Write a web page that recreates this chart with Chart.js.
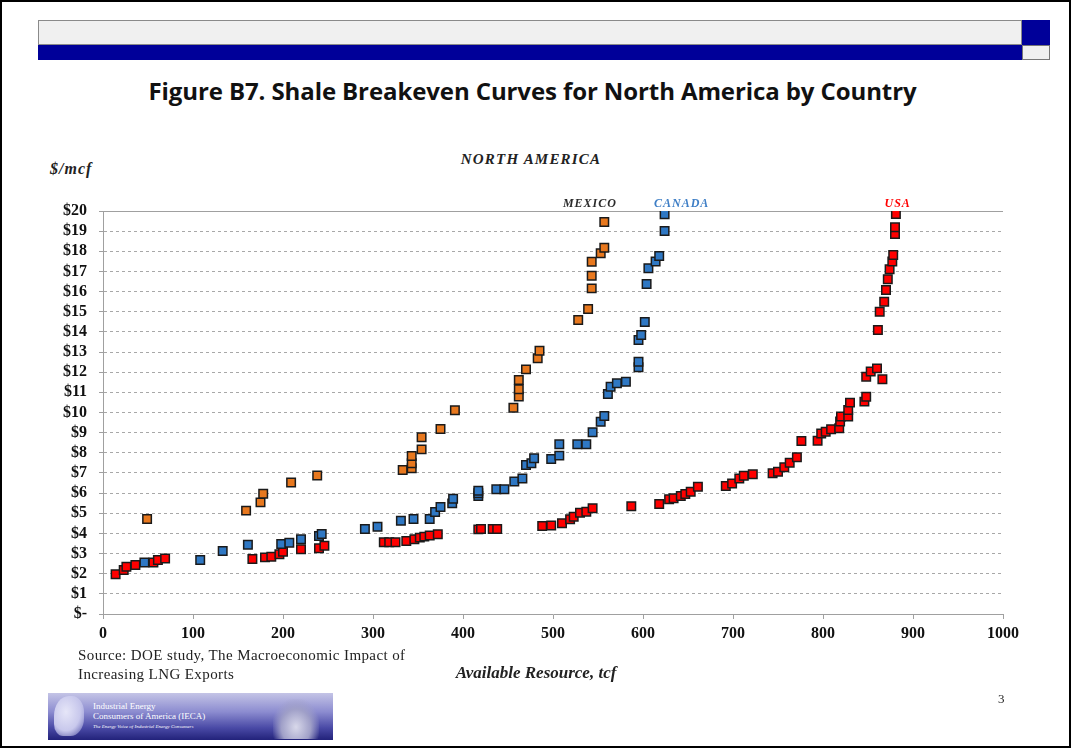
<!DOCTYPE html>
<html>
<head>
<meta charset="utf-8">
<script src="https://cdn.jsdelivr.net/npm/chart.js@4.4.1/dist/chart.umd.min.js"></script>
<style>
  body { margin: 0; background: #fff; }
  .page { position: relative; width: 1073px; height: 750px; overflow: hidden; background: #fff; }
  .frame { position: absolute; left: 0; top: 0; width: 1071px; height: 748px; border: 2px solid #000; box-sizing: border-box; }
  .abs { position: absolute; white-space: nowrap; }
  .serif { font-family: "Liberation Serif", "Times New Roman", serif; }
  #chart { position: absolute; left: 0; top: 0; }
  .logo { position: absolute; left: 48px; top: 693px; width: 285px; height: 47px; overflow: hidden;
    background: linear-gradient(180deg, #c4c4e6 0%, #8c8cd0 40%, #4a4aa6 74%, #22227a 100%); }
  .logo .map { position: absolute; left: 6px; top: 3px; width: 30px; height: 40px; border-radius: 50% 40% 45% 30%;
    background: radial-gradient(ellipse at 40% 40%, #e6e6f8 0%, #c8c8ec 55%, rgba(190,190,235,0) 100%); }
  .logo .dome { position: absolute; right: 14px; top: 6px; width: 46px; height: 40px;
    background: radial-gradient(ellipse at 50% 70%, #d8d8ea 0%, #a0a0c8 45%, rgba(120,120,180,0) 75%); }
  .logo .t { position: absolute; color: #fff; font-family: "Liberation Serif", serif; white-space: nowrap; }
</style>
</head>
<body>
<div class="page">
  <!-- header band -->
  <div class="abs" style="left:38px;top:20px;width:984px;height:25px;background:#f0f0f0;border:1px solid #8a8a8a;box-sizing:border-box;"></div>
  <div class="abs" style="left:38px;top:45px;width:984px;height:15px;background:#000099;"></div>
  <div class="abs" style="left:1022px;top:20px;width:28px;height:25px;background:#000099;"></div>
  <div class="abs" style="left:1022px;top:45px;width:28px;height:15px;background:#f0f0f0;border:1px solid #777;box-sizing:border-box;"></div>

  <div class="abs" style="left:0;width:1065px;top:74px;text-align:center;font:bold 24px 'Open Sans', sans-serif;letter-spacing:-0.1px;color:#111;">Figure B7. Shale Breakeven Curves for North America by Country</div>

  <div class="abs serif" style="left:0;width:1062px;top:151px;text-align:center;font-weight:bold;font-style:italic;font-size:15px;letter-spacing:1.2px;color:#222;">NORTH AMERICA</div>
  <div class="abs serif" style="left:50px;top:160px;font-weight:bold;font-style:italic;font-size:16px;letter-spacing:1px;color:#222;">$/mcf</div>

  <canvas id="chart" width="1073" height="750"></canvas>

  <div class="abs serif" style="left:0;width:1072px;top:663px;text-align:center;font-weight:bold;font-style:italic;font-size:17px;color:#222;">Available Resource, tcf</div>
  <div class="abs serif" style="left:78px;top:646px;font-size:15px;letter-spacing:0.4px;line-height:19px;color:#222;">Source: DOE study, The Macroeconomic Impact of<br>Increasing LNG Exports</div>
  <div class="abs serif" style="left:998px;top:691px;font-size:13px;color:#222;">3</div>

  <div class="logo">
    <div class="map"></div>
    <div class="dome"></div>
    <div class="t" style="left:45px;top:8px;font-size:9px;">Industrial Energy</div>
    <div class="t" style="left:45px;top:18px;font-size:9px;">Consumers of America (IECA)</div>
    <div class="t" style="left:45px;top:31px;font-size:5px;font-style:italic;">The Energy Voice of Industrial Energy Consumers</div>
  </div>
  <div class="frame"></div>
</div>

<script>
// Breakeven price ($/mcf) vs cumulative available resource (tcf)
const usaX = [14, 23, 26, 36, 56, 61, 69, 166, 180, 187, 196, 200, 220, 240, 246,
  312, 318, 325, 337, 346, 352, 357, 363, 372, 417, 420, 433, 438, 488, 498, 510,
  519, 523, 530, 537, 544, 587, 618, 629, 634, 642, 647, 653, 661, 692, 699, 707,
  712, 722, 744, 750, 757, 763, 771, 776, 794, 798, 803, 809, 818, 819, 820, 828,
  828, 830, 846, 848, 866, 848, 853, 860, 861, 863, 868, 870, 872, 874, 877, 878,
  880, 880, 881];
const usaY = [1.97, 2.18, 2.35, 2.43, 2.55, 2.68, 2.75, 2.73, 2.81, 2.84, 2.96, 3.09, 3.21, 3.26, 3.39,
  3.56, 3.56, 3.56, 3.62, 3.71, 3.79, 3.84, 3.89, 3.96, 4.20, 4.22, 4.22, 4.22, 4.37, 4.39, 4.50,
  4.70, 4.83, 5.03, 5.08, 5.25, 5.35, 5.46, 5.69, 5.74, 5.86, 5.95, 6.07, 6.32, 6.35, 6.48, 6.73,
  6.86, 6.93, 6.98, 7.06, 7.28, 7.51, 7.78, 8.59, 8.60, 8.96, 9.05, 9.17, 9.22, 9.55, 9.80, 9.80,
  10.12, 10.49, 10.54, 10.78, 11.65, 11.78, 12.03, 12.19, 14.09, 15.00, 15.50, 16.08, 16.61, 17.11, 17.49, 17.82,
  18.86, 19.19, 19.85];

const canadaX = [46, 108, 133, 161, 198, 207, 220, 240, 243, 291, 305, 331, 345, 363,
  369, 375, 388, 389, 417, 417, 417, 437, 446, 457, 466, 470, 476, 479, 498, 507, 507,
  527, 537, 544, 553, 557, 561, 564, 571, 581, 595, 595, 595, 598, 602, 604, 606,
  614, 618, 624, 624];
const canadaY = [2.55, 2.68, 3.13, 3.44, 3.47, 3.54, 3.71, 3.87, 3.97, 4.22, 4.33, 4.63, 4.71, 4.71,
  5.06, 5.31, 5.49, 5.72, 5.86, 5.99, 6.12, 6.19, 6.19, 6.57, 6.73, 7.39, 7.48, 7.73, 7.69, 7.86, 8.42,
  8.42, 8.42, 9.02, 9.54, 9.83, 10.92, 11.28, 11.45, 11.53, 12.24, 12.52, 13.60, 13.85, 14.49, 16.38, 17.16,
  17.49, 17.77, 19.01, 19.84];

const mexicoX = [49, 159, 175, 178, 209, 238, 333, 343, 343, 343, 354, 354, 375, 391,
  456, 462, 462, 462, 470, 483, 485, 528, 539, 543, 543, 543, 553, 557, 557];
const mexicoY = [4.71, 5.13, 5.54, 5.97, 6.53, 6.87, 7.15, 7.23, 7.48, 7.84, 8.17, 8.77, 9.18, 10.11,
  10.24, 10.79, 11.15, 11.61, 12.14, 12.69, 13.07, 14.59, 15.14, 16.16, 16.79, 17.48, 17.90, 18.18, 19.45];

// curve names written above the plot, at these x positions (tcf)
const seriesNames = ["MEXICO", "CANADA", "USA"];
const nameAt = [541, 643, 883];
const nameColors = ["#2b2b2b", "#3f7fc6", "#ff0000"];

const serif = "'Liberation Serif', 'Times New Roman', serif";

function points(xs, ys) {
  return xs.map((x, i) => ({ x: x, y: ys[i] }));
}

function series(label, xs, ys, color) {
  return {
    label: label,
    data: points(xs, ys),
    backgroundColor: color,
    borderColor: "#1a1a1a",
    borderWidth: 1.5,
    pointStyle: "rect",
    pointRadius: 6,
    pointHoverRadius: 6,
  };
}

const topLinePlugin = {
  id: "topLine",
  beforeDatasetsDraw(chart) {
    const { ctx, chartArea } = chart;
    ctx.save();
    ctx.strokeStyle = "#a0a0a0";
    ctx.lineWidth = 1;
    ctx.beginPath();
    ctx.moveTo(chartArea.left - 4, chartArea.top + 0.5);
    ctx.lineTo(chartArea.right, chartArea.top + 0.5);
    ctx.stroke();
    ctx.restore();
  },
  afterDraw(chart) {
    const { ctx, chartArea } = chart;
    const xs = chart.scales.x;
    ctx.save();
    ctx.font = "italic bold 12px " + serif;
    ctx.letterSpacing = "1px";
    ctx.textAlign = "center";
    ctx.textBaseline = "alphabetic";
    seriesNames.forEach((name, i) => {
      ctx.fillStyle = nameColors[i];
      ctx.fillText(name, xs.getPixelForValue(nameAt[i]), chartArea.top - 4);
    });
    ctx.restore();
  },
};

const ctx = document.getElementById("chart").getContext("2d");

new Chart(ctx, {
  type: "scatter",
  data: {
    datasets: [
      series("Mexico", mexicoX, mexicoY, "#e8781e"),
      series("Canada", canadaX, canadaY, "#2f78c4"),
      series("USA", usaX, usaY, "#ff0000"),
    ],
  },
  options: {
    responsive: false,
    animation: false,
    layout: {
      padding: { left: 0, top: 211, right: 70, bottom: 0 },
    },
    scales: {
      x: {
        type: "linear",
        min: 0,
        max: 1000,
        ticks: {
          stepSize: 100,
          padding: 5,
          autoSkip: false,
          maxRotation: 0,
          color: "#111",
          font: { family: serif, size: 16, weight: "bold" },
          callback: (v) => String(v),
        },
        grid: { drawOnChartArea: false, tickLength: 5, color: "#a0a0a0" },
        border: { color: "#a0a0a0" },
        afterFit(scale) {
          scale.height = 136;
        },
      },
      y: {
        min: 0,
        max: 20,
        ticks: {
          stepSize: 1,
          padding: 12,
          autoSkip: false,
          color: "#111",
          font: { family: serif, size: 16, weight: "bold" },
          callback: (v) => (v === 0 ? "$-" : "$" + v),
        },
        grid: { tickLength: 4, color: "#a8a8a8", tickColor: "#a0a0a0" },
        border: { color: "#a0a0a0", dash: [3, 3] },
        afterFit(scale) {
          scale.width = 103;
        },
      },
    },
    plugins: {
      legend: { display: false },
      tooltip: { enabled: false },
    },
  },
  plugins: [topLinePlugin],
});
</script>
</body>
</html>
